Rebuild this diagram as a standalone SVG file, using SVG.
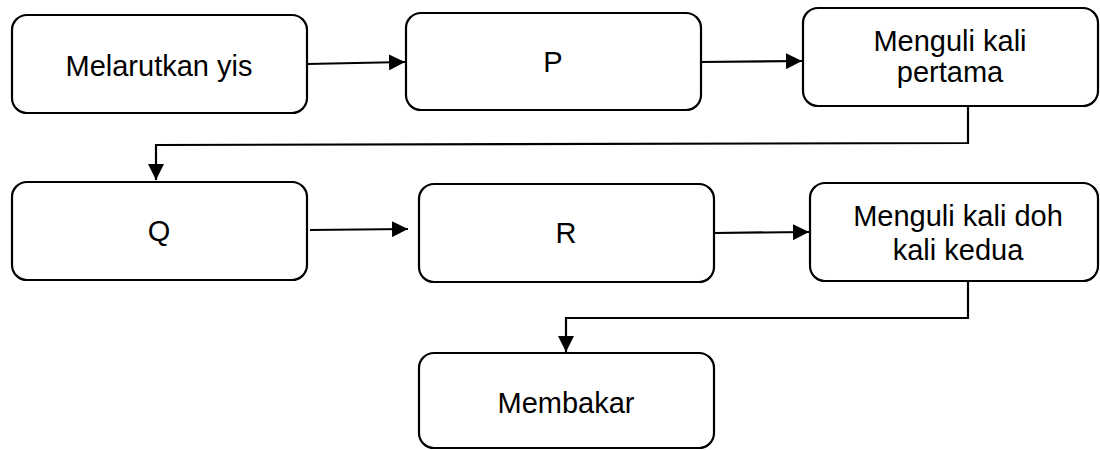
<svg xmlns="http://www.w3.org/2000/svg" width="1100" height="450" viewBox="0 0 1100 450">
<style>
.box{fill:#fff;stroke:#000;stroke-width:2.2}
.lbl{font-family:"Liberation Sans",Arial,sans-serif;font-size:29px;fill:#000;text-anchor:middle}
.con{fill:none;stroke:#000;stroke-width:2.2}
</style>
<defs>
<marker id="ah" viewBox="0 0 16 16" refX="16" refY="8" markerWidth="16" markerHeight="16" markerUnits="userSpaceOnUse" orient="auto">
<path d="M0,0 L16,8 L0,16 Z" fill="#000"/>
</marker>
</defs>
<rect width="1100" height="450" fill="#fff"/>
<g id="connectors">
<line class="con" x1="307" y1="64" x2="405" y2="62" marker-end="url(#ah)"/>
<line class="con" x1="700" y1="62" x2="802" y2="61" marker-end="url(#ah)"/>
<polyline class="con" points="968,106 968,143 156,145 156,180" marker-end="url(#ah)"/>
<line class="con" x1="310" y1="230" x2="408" y2="229" marker-end="url(#ah)"/>
<line class="con" x1="714" y1="233" x2="809" y2="232" marker-end="url(#ah)"/>
<polyline class="con" points="968,282 968,318 566,318 566,352" marker-end="url(#ah)"/>
</g>
<g id="n1"><rect class="box" x="12" y="15" width="295" height="98" rx="15"/><text class="lbl" x="159" y="76">Melarutkan yis</text></g>
<g id="nP"><rect class="box" x="406" y="13" width="295" height="97" rx="15"/><text class="lbl" x="553" y="72">P</text></g>
<g id="n3"><rect class="box" x="803" y="8" width="295" height="98" rx="15"/><text class="lbl" x="950" y="51">Menguli kali</text><text class="lbl" x="950" y="82">pertama</text></g>
<g id="nQ"><rect class="box" x="12" y="182" width="295" height="98" rx="15"/><text class="lbl" x="159" y="241">Q</text></g>
<g id="nR"><rect class="box" x="419" y="184" width="295" height="98" rx="15"/><text class="lbl" x="566" y="243">R</text></g>
<g id="n6"><rect class="box" x="810" y="183" width="288" height="98" rx="15"/><text class="lbl" x="958" y="226">Menguli kali doh</text><text class="lbl" x="958" y="260">kali kedua</text></g>
<g id="n7"><rect class="box" x="419" y="353" width="295" height="95" rx="15"/><text class="lbl" x="566" y="413">Membakar</text></g>
</svg>
